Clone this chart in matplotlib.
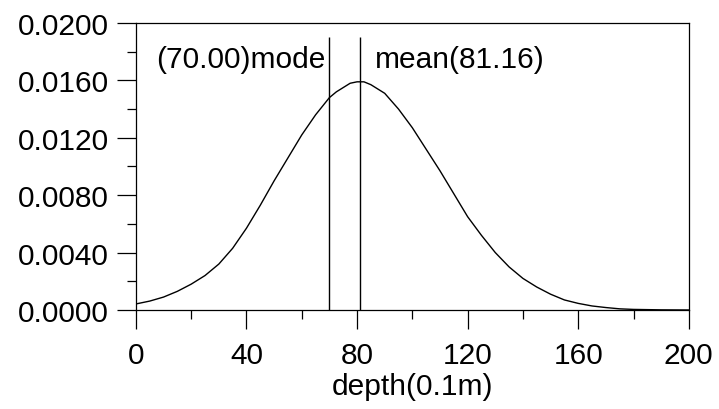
import matplotlib
matplotlib.use('Agg')
import matplotlib.pyplot as plt
from matplotlib.ticker import MultipleLocator, FormatStrFormatter

plt.rcParams['font.family'] = ['Liberation Sans', 'DejaVu Sans']

# curve
depth = [0, 5, 10, 15, 20, 25, 30, 35, 40, 45, 50, 55, 60, 65, 70, 72.5, 75,
         77.5, 80, 82.5, 85, 87.5, 90, 95, 100, 105, 110, 115, 120, 125, 130,
         135, 140, 145, 150, 155, 160, 165, 170, 175, 180, 190, 200]
density = [0.00042, 0.00062, 0.00090, 0.00130, 0.0018, 0.0024, 0.0032, 0.0043,
           0.0057, 0.0073, 0.0090, 0.0106, 0.0122, 0.0136, 0.0148, 0.0152,
           0.0155, 0.0158, 0.0159, 0.0159, 0.0157, 0.0154, 0.0151, 0.0140,
           0.0127, 0.0112, 0.0097, 0.0081, 0.0065, 0.0052, 0.0040, 0.0030,
           0.0022, 0.0016, 0.0011, 0.0007, 0.00046, 0.00028, 0.00017, 0.00008,
           0.00004, 0.00001, 0.0]

mode_val = 70.00
mean_val = 81.16

fig = plt.figure(figsize=(7.19, 4.10), dpi=100)
ax = fig.add_axes([0.189, 0.2415, 0.769, 0.700])

ax.plot(depth, density, color='black', lw=1.0)
ax.vlines([mode_val, mean_val], 0, 0.0190, color='black', lw=1.0)

ax.text(mode_val - 1.5, 0.0175, f'({mode_val:.2f})mode', ha='right', va='center', fontsize=21.5)
ax.text(mean_val + 5.5, 0.0175, f'mean({mean_val:.2f})', ha='left', va='center', fontsize=21.5)

ax.set_xlim(0, 200)
ax.set_ylim(0, 0.02)
ax.xaxis.set_major_locator(MultipleLocator(40))
ax.xaxis.set_minor_locator(MultipleLocator(20))
ax.yaxis.set_major_locator(MultipleLocator(0.004))
ax.yaxis.set_minor_locator(MultipleLocator(0.002))
ax.yaxis.set_major_formatter(FormatStrFormatter('%.4f'))

ax.tick_params(axis='both', which='major', direction='out', length=13.5, width=0.9,
               labelsize=21.5, colors='black')
ax.tick_params(axis='both', which='minor', direction='out', length=6.5, width=0.9)
ax.tick_params(axis='x', which='major', pad=9)
ax.tick_params(axis='y', which='major', pad=6)

for s in ax.spines.values():
    s.set_linewidth(0.9)

ax.set_xlabel('depth(0.1m)', fontsize=21.5, labelpad=2)

fig.savefig('out.png', dpi=100)
